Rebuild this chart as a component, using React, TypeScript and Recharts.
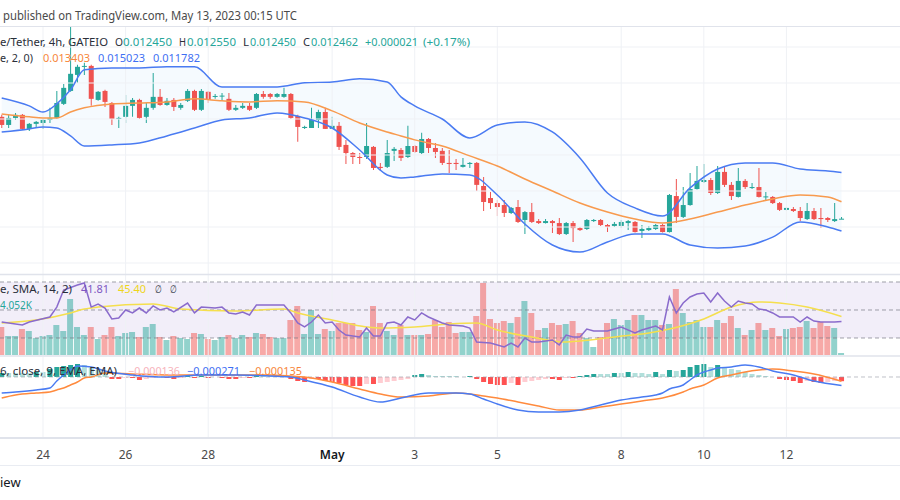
import React from 'react';
import {
  ComposedChart,
  Bar,
  Line,
  Area,
  XAxis,
  YAxis,
  ReferenceLine,
  ReferenceArea,
  Cell
} from 'recharts';

const FONT = '"Noto Sans", Roboto, sans-serif';
const TEAL = '#26a69a';
const RED = '#ef5350';
const BLUE = '#4a7bf2';
const ORANGE = '#f89a4e';
const GRID = '#eff1f5';

// x is hours since Apr 23 00:00 (exchange time), one candle every 4h
const X_DOMAIN: [number, number] = [-0.99, 522];
const dayTicks = [24, 72, 120, 192, 240, 288, 360, 408, 456];
const dayLabels = ['24', '26', '28', 'May', '3', '5', '8', '10', '12'];
const priceGrid = [0.01, 0.012, 0.014, 0.016, 0.018, 0.02, 0.022];

const open = [
  0.01812, 0.01767, 0.01806, 0.01823, 0.01745, 0.01773, 0.01778, 0.01795, 0.01806, 0.01884,
  0.01956, 0.02045, 0.0209, 0.02095, 0.01906, 0.01956, 0.01889, 0.018, 0.01812, 0.01873,
  0.01906, 0.01812, 0.01862, 0.01923, 0.01878, 0.01906, 0.01862, 0.01901, 0.01956, 0.01851,
  0.01951, 0.01923, 0.01928, 0.01912, 0.01851, 0.01862, 0.01873, 0.01862, 0.01939, 0.01939,
  0.01923, 0.01923, 0.01939, 0.01817, 0.0175, 0.0175, 0.01795, 0.01839, 0.01745, 0.01762,
  0.01656, 0.01611, 0.01589, 0.01589, 0.01645, 0.01534, 0.01534, 0.01623, 0.01628, 0.01589,
  0.0165, 0.01611, 0.01689, 0.01639, 0.01623, 0.01556, 0.01556, 0.01534, 0.0155, 0.01556,
  0.01428, 0.01361, 0.01333, 0.01322, 0.01278, 0.01311, 0.01239, 0.01283, 0.01233, 0.01222,
  0.01233, 0.01222, 0.01161, 0.01222, 0.01194, 0.01189, 0.01233, 0.01239, 0.01211, 0.01206,
  0.01206, 0.01222, 0.01228, 0.01178, 0.01183, 0.01189, 0.01211, 0.01172, 0.01372, 0.01256,
  0.01322, 0.01411, 0.0145, 0.01461, 0.01389, 0.01506, 0.01434, 0.01367, 0.01456, 0.01417,
  0.01422, 0.01367, 0.01367, 0.01333, 0.01295, 0.013, 0.01289, 0.01244, 0.01289, 0.0125,
  0.0125, 0.01233, 0.01245
];
const high = [
  0.01823, 0.01823, 0.01834, 0.01828, 0.01778, 0.01789, 0.018, 0.01862, 0.01956, 0.01995,
  0.0236, 0.02101, 0.02112, 0.02101, 0.01956, 0.01962, 0.01895, 0.01812, 0.01934, 0.01917,
  0.01912, 0.01889, 0.02056, 0.01967, 0.01917, 0.01917, 0.01889, 0.01967, 0.01962, 0.01967,
  0.01956, 0.01939, 0.01945, 0.01945, 0.01878, 0.01889, 0.01889, 0.01945, 0.01956, 0.01945,
  0.01945, 0.01973, 0.01945, 0.01823, 0.01762, 0.01862, 0.01851, 0.01862, 0.01812, 0.01784,
  0.01684, 0.01617, 0.01611, 0.01778, 0.0165, 0.01556, 0.01684, 0.01645, 0.01639, 0.01762,
  0.01656, 0.01723, 0.01695, 0.01667, 0.01639, 0.01628, 0.01578, 0.01584, 0.01561, 0.01561,
  0.01478, 0.01395, 0.0135, 0.0135, 0.01311, 0.0135, 0.01289, 0.01333, 0.01244, 0.01244,
  0.01239, 0.0125, 0.01228, 0.01233, 0.012, 0.01244, 0.01244, 0.01244, 0.01217, 0.01228,
  0.01239, 0.01239, 0.01233, 0.01211, 0.01206, 0.01217, 0.01217, 0.01383, 0.01467, 0.01422,
  0.015, 0.01539, 0.0155, 0.01472, 0.01539, 0.01539, 0.0145, 0.01528, 0.01467, 0.01445,
  0.01528, 0.01395, 0.01372, 0.01339, 0.01311, 0.01311, 0.01311, 0.01333, 0.01306, 0.01306,
  0.01256, 0.01333, 0.01255
];
const low = [
  0.0175, 0.0175, 0.01795, 0.01739, 0.01734, 0.01756, 0.01745, 0.01778, 0.018, 0.01878,
  0.01951, 0.02001, 0.02045, 0.01873, 0.01901, 0.01867, 0.01767, 0.0175, 0.01778, 0.01812,
  0.018, 0.01778, 0.01851, 0.01873, 0.01873, 0.01845, 0.01851, 0.01895, 0.01845, 0.01845,
  0.01889, 0.01912, 0.01901, 0.01845, 0.01845, 0.01856, 0.01845, 0.01856, 0.01912, 0.01912,
  0.01918, 0.01918, 0.018, 0.01673, 0.01745, 0.0175, 0.0175, 0.01745, 0.01745, 0.01628,
  0.0155, 0.0155, 0.0155, 0.01578, 0.01517, 0.01511, 0.01528, 0.01567, 0.01567, 0.01584,
  0.01611, 0.01606, 0.01611, 0.01584, 0.01545, 0.015, 0.01517, 0.0153, 0.01528, 0.014,
  0.01289, 0.013, 0.01261, 0.01256, 0.01272, 0.01222, 0.01161, 0.01222, 0.01217, 0.01219,
  0.01167, 0.01156, 0.01156, 0.01117, 0.01178, 0.01183, 0.01228, 0.01206, 0.01172, 0.012,
  0.01194, 0.01183, 0.0117, 0.01139, 0.01178, 0.01183, 0.0117, 0.0117, 0.01222, 0.0125,
  0.01318, 0.01408, 0.01445, 0.01378, 0.01383, 0.01422, 0.0135, 0.01364, 0.01411, 0.01411,
  0.01364, 0.0135, 0.01328, 0.01289, 0.01289, 0.01283, 0.01233, 0.01239, 0.01239, 0.01194,
  0.01228, 0.01228, 0.01245
];
const close = [
  0.01767, 0.01806, 0.01823, 0.01745, 0.01773, 0.01784, 0.01795, 0.01806, 0.01889, 0.01973,
  0.02051, 0.0209, 0.02095, 0.01912, 0.01951, 0.01895, 0.018, 0.01806, 0.01873, 0.01906,
  0.01806, 0.01862, 0.01923, 0.01878, 0.01901, 0.01867, 0.01878, 0.01956, 0.01851, 0.01956,
  0.01906, 0.01928, 0.0193, 0.01851, 0.01862, 0.01873, 0.01851, 0.01939, 0.01923, 0.01923,
  0.01939, 0.01939, 0.01806, 0.01756, 0.01756, 0.01795, 0.01839, 0.01745, 0.01762, 0.01645,
  0.01611, 0.01589, 0.01584, 0.0165, 0.01528, 0.01528, 0.01611, 0.01634, 0.01584, 0.0165,
  0.01617, 0.01689, 0.01639, 0.01617, 0.01556, 0.0155, 0.0155, 0.01545, 0.01556, 0.01434,
  0.01339, 0.01333, 0.01311, 0.01278, 0.01306, 0.01228, 0.01283, 0.01228, 0.01222, 0.01233,
  0.01222, 0.01161, 0.01222, 0.01194, 0.01183, 0.01239, 0.01239, 0.01211, 0.012, 0.01217,
  0.01228, 0.01233, 0.01172, 0.01189, 0.01194, 0.01211, 0.01172, 0.01378, 0.01256, 0.01322,
  0.01411, 0.01456, 0.01461, 0.01389, 0.01506, 0.01434, 0.01372, 0.01456, 0.01422, 0.01422,
  0.01367, 0.0137, 0.01333, 0.01295, 0.01306, 0.01289, 0.0125, 0.01289, 0.01244, 0.01244,
  0.01239, 0.01244, 0.012462
];

// volume in thousands
const volumeK = [
  56, 38, 38, 52, 48, 34, 38, 40, 60, 48,
  112, 56, 40, 56, 32, 40, 56, 38, 44, 46,
  36, 56, 62, 36, 30, 38, 34, 32, 44, 42,
  32, 30, 36, 40, 34, 40, 36, 44, 42, 36,
  34, 34, 70, 98, 42, 90, 42, 52, 48, 64,
  64, 64, 50, 46, 98, 64, 48, 40, 60, 40,
  40, 40, 42, 70, 56, 66, 44, 46, 46, 78,
  144, 72, 64, 68, 64, 76, 108, 84, 50, 54,
  64, 60, 62, 68, 44, 34, 16, 36, 64, 72,
  60, 70, 80, 80, 70, 70, 60, 62, 132, 84,
  66, 70, 56, 56, 70, 64, 78, 54, 40, 50,
  64, 50, 54, 38, 52, 54, 56, 68, 54, 66,
  58, 54, 4.052
];

// Bollinger bands (20, 2), read at these candle indexes
const bbAt = [0, 4, 6, 8, 10, 12, 16, 20, 24, 28, 32, 36, 40, 44, 48, 52, 56, 58, 60, 64, 68, 72, 76, 80, 84, 88, 92, 96, 100, 104, 108, 112, 116, 120, 122];
const bbUpper = [
  0.01917, 0.01873, 0.01839, 0.01884, 0.01962, 0.02073, 0.02084, 0.02084, 0.0209, 0.0209,
  0.01978, 0.01978, 0.01978, 0.02001, 0.02006, 0.02023, 0.02006, 0.01923, 0.01873, 0.018,
  0.01695, 0.01767, 0.01784, 0.01728, 0.01584, 0.01389, 0.01306, 0.01261, 0.01417, 0.01522,
  0.01556, 0.01556, 0.01522, 0.01511, 0.015023
];
const bbBasis = [
  0.01828, 0.01812, 0.01806, 0.01806, 0.01839, 0.01862, 0.01884, 0.01889, 0.01895, 0.01912,
  0.01901, 0.01895, 0.01901, 0.01895, 0.01845, 0.01778, 0.01728, 0.01706, 0.01684, 0.0165,
  0.01595, 0.01539, 0.01467, 0.014, 0.01333, 0.01283, 0.01244, 0.01222, 0.01244, 0.01283,
  0.01322, 0.01356, 0.01378, 0.01367, 0.013403
];
const bbLower = [
  0.01728, 0.01745, 0.01756, 0.0175, 0.01706, 0.0165, 0.01656, 0.01667, 0.01706, 0.0175,
  0.01795, 0.01806, 0.01834, 0.01806, 0.0175, 0.01628, 0.01489, 0.01472, 0.01478, 0.01495,
  0.01489, 0.01378, 0.01217, 0.011, 0.01061, 0.01117, 0.01161, 0.01161, 0.011, 0.01083,
  0.01094, 0.01144, 0.01228, 0.012, 0.011782
];

// RSI 14 (null where not read)
const rsi = [
  41.4, null, null, 39.3, 41.4, null, null, 45.0, 52.1, 64.3,
  null, 67.9, 69.3, 52.1, 54.3, 51.4, 43.6, 44.3, 50.0, 47.9,
  51.4, 47.9, 52.9, 50.0, 51.4, 48.6, null, 55.0, 47.9, 52.1,
  null, 51.4, 52.1, 47.9, 47.1, 48.6, 46.4, 53.6, 53.6, null,
  null, 53.6, 47.9, 40.7, 37.9, 41.4, 46.4, 40.7, 41.4, 35.7,
  32.1, null, 30.7, 37.1, 31.4, 31.4, 40.7, 41.4, 39.3, 45.0,
  42.9, 47.9, 45.0, null, 40.7, 39.3, null, 38.6, 37.1, 27.1,
  null, 26.4, null, 23.6, 26.4, 23.6, 30.0, 27.1, 27.1, null,
  28.6, 25.0, 32.1, 30.7, 30.7, 36.4, 35.0, null, 35.0, 36.4,
  37.9, null, 33.6, 35.7, 37.1, 38.6, 35.7, 59.3, 47.9, 55.0,
  59.3, 61.4, 62.1, 55.7, 62.1, 56.4, 52.1, 56.4, 55.0, 54.3,
  50.7, 50.0, 47.9, 45.0, 45.0, 45.0, 41.4, 45.0, 42.1, 41.4,
  null, 41.4, 41.81
];
const rsiMaAt = [0, 5, 10, 12, 14, 22, 26, 34, 41, 43, 48, 53, 55, 60, 65, 69, 72, 77, 82, 84, 89, 94, 97, 102, 106, 110, 113, 117, 122];
const rsiMa = [40.7, 42.9, 47.9, 50.7, 52.1, 54.3, 50.7, 49.3, 50.7, 47.9, 42.9, 37.9, 37.1, 37.9, 40.0, 40.7, 35.7, 30.7, 27.1, 27.9, 30.7, 33.6, 36.4, 43.6, 52.1, 55.7, 55.0, 52.1, 45.4];

// MACD (12, 26, close, 9)
const macdHist = [
  0.000129, 0.000129, 0.000129, 0.000129, 0.000129, 0.000161, 0.000161, 0.000258, 0.000323, 0.000355,
  0.000387, 0.000419, 0.000387, 0.00029, 0.000226, 0.000161, -0.000065, -0.000065, -0.000032, -0.000032,
  -0.000097, -0.000065, -0.000032, 0, -0.000032, -0.000065, -0.000032, 0.000032, -0.000032, 0.000032,
  -0.000032, 0, -0.000032, -0.000065, -0.000065, -0.000032, -0.000032, 0.000032, 0.000032, 0.000032,
  0.000032, 0, -0.000065, -0.000129, -0.000161, -0.000065, -0.000065, -0.000129, -0.000161, -0.000194,
  -0.000258, -0.00029, -0.00029, -0.000226, -0.000226, -0.000194, -0.000161, -0.000129, -0.000097, -0.000065,
  0.000065, 0.000097, 0.000065, 0.000032, 0.000032, 0.000032, 0.000032, 0, 0.000032, -0.000065,
  -0.000161, -0.000226, -0.000258, -0.000258, -0.000194, -0.000258, -0.000161, -0.000129, -0.000097, -0.000065,
  -0.000065, -0.000097, -0.000032, -0.000032, 0.000032, 0.000065, 0.000097, 0.000097, 0.000097, 0.000129,
  0.000129, 0.000161, 0.000129, 0.000129, 0.000097, 0.000161, 0.000097, 0.000226, 0.000194, 0.000226,
  0.000323, 0.000387, 0.000419, 0.000323, 0.000387, 0.000323, 0.000258, 0.000226, 0.000161, 0.000097,
  0.000065, 0.000032, 0, -0.000065, -0.000097, -0.000129, -0.000194, -0.000129, -0.000161, -0.000194,
  -0.000161, -0.000129, -0.000136
];
const macdAt = [0, 2, 5, 7, 8, 9, 10, 11, 13, 15, 19, 24, 29, 34, 39, 42, 44, 48, 52, 55, 58, 62, 66, 68, 70, 72, 75, 78, 81, 84, 87, 90, 93, 95, 96, 97, 99, 100, 101, 102, 103, 104, 106, 108, 110, 112, 115, 118, 122];
const macdLine = [
  -0.000516, -0.000484, -0.000419, -0.000355, -0.000129, 0.000065, 0.000226, 0.000355, 0.000323, 0.000194,
  0.000065, 0, 0.000065, 0.000065, 0.000032, 0, -0.000097, -0.000323, -0.000645, -0.000807,
  -0.000677, -0.000516, -0.000516, -0.000548, -0.00071, -0.000871, -0.001065, -0.001129, -0.001129, -0.001065,
  -0.000903, -0.000742, -0.000645, -0.000581, -0.000516, -0.000387, -0.000258, -0.000097, 0.000065, 0.000161,
  0.000226, 0.00029, 0.000323, 0.000387, 0.000323, 0.000194, 0.000065, -0.000129, -0.000271
];
const signalAt = [0, 2, 5, 7, 8, 9, 10, 11, 12, 13, 15, 19, 24, 29, 34, 39, 42, 44, 48, 52, 55, 58, 62, 66, 68, 70, 72, 75, 78, 81, 84, 87, 90, 93, 96, 99, 100, 102, 104, 106, 108, 110, 112, 115, 118, 122];
const signalLine = [
  -0.000677, -0.000581, -0.000516, -0.000484, -0.000419, -0.000355, -0.000258, -0.000161, -0.000032, 0,
  0.000129, 0.000097, 0.000065, 0.000065, 0.000065, 0.000065, 0.000032, 0, -0.000161, -0.000387,
  -0.000548, -0.000645, -0.000613, -0.000516, -0.000548, -0.000613, -0.000677, -0.000807, -0.000936, -0.001065,
  -0.001065, -0.000968, -0.000871, -0.000774, -0.000677, -0.000484, -0.000387, -0.000258, -0.000032, 0.000065,
  0.000161, 0.000226, 0.000258, 0.000194, 0.000097, -0.000135
];

const candles = open.map((o, i) => ({
  t: i * 4,
  body: [Math.min(o, close[i]), Math.max(o, close[i])],
  wick: [low[i], high[i]],
  up: close[i] >= o,
  vol: volumeK[i],
  hist: macdHist[i]
}));
const at = (idx: number[], vals: number[]) => idx.map((k, i) => ({ t: k * 4, v: vals[i] }));
const bbRows = bbAt.map((k, i) => ({
  t: k * 4,
  up: bbUpper[i],
  mid: bbBasis[i],
  lo: bbLower[i],
  band: [bbLower[i], bbUpper[i]]
}));
const rsiRows = rsi
  .map((v, i) => ({ t: i * 4, v }))
  .filter((d) => d.v !== null);
const rsiMaRows = at(rsiMaAt, rsiMa);
const macdRows = at(macdAt, macdLine);
const signalRows = at(signalAt, signalLine);

const histColor = (i: number) => {
  const v = macdHist[i];
  const prev = i > 0 ? macdHist[i - 1] : 0;
  if (v >= 0) return v > prev ? '#26a69a' : '#b2dfdb';
  return v > prev ? '#ffcdd2' : '#ff5252';
};

const BodyRect = (p: any) => (
  <rect x={p.x} y={p.y} width={p.width} height={Math.max(1, p.height)} fill={p.fill} />
);

const DayTick = (p: any) => {
  const label = dayLabels[dayTicks.indexOf(p.payload.value)];
  const strong = label === 'May';
  return (
    <text
      x={p.x}
      y={p.y}
      dy={19}
      textAnchor="middle"
      fontSize={12}
      fontFamily={FONT}
      fill={strong ? '#131722' : '#4a4a4a'}
      fontWeight={strong ? 600 : 400}
    >
      {label}
    </text>
  );
};

const margin = { top: 0, right: 0, bottom: 0, left: 0 };
const DARK = '#2a2e39';

// [left x, text, colour, width it takes in the reference]
type Seg = [number, string, string, number];
const Row = ({ y, segs }: { y: number; segs: Seg[] }) => (
  <g>
    {segs.map(([x, s, c, w], i) => (
      <text
        key={i}
        x={x}
        y={y}
        fontSize={11}
        fontFamily={FONT}
        fill={c}
        textLength={w}
        lengthAdjust="spacingAndGlyphs"
      >
        {s}
      </text>
    ))}
  </g>
);

const App = () => {
  return (
    <div
      style={{
        position: 'absolute',
        left: 0,
        top: 0,
        width: 900,
        height: 500,
        background: '#ffffff',
        overflow: 'hidden'
      }}
    >
      {/* price pane */}
      <div style={{ position: 'absolute', left: 0, top: 26 }}>
        <ComposedChart width={900} height={248} data={candles} margin={margin}>
          <XAxis xAxisId="w" type="number" dataKey="t" domain={X_DOMAIN} allowDataOverflow hide />
          <XAxis xAxisId="b" type="number" dataKey="t" domain={X_DOMAIN} allowDataOverflow hide />
          <YAxis type="number" domain={[0.009389, 0.023167]} allowDataOverflow hide />
          {priceGrid.map((p) => (
            <ReferenceLine key={p} xAxisId="w" y={p} stroke={GRID} />
          ))}
          {dayTicks.map((t) => (
            <ReferenceLine key={t} xAxisId="w" x={t} stroke={GRID} />
          ))}
          <Area
            xAxisId="w"
            data={bbRows}
            dataKey="band"
            type="monotone"
            stroke="none"
            fill="#2196f3"
            fillOpacity={0.045}
            isAnimationActive={false}
          />
          <Line xAxisId="w" data={bbRows} dataKey="up" type="monotone" stroke={BLUE} strokeWidth={1.5} dot={false} activeDot={false} isAnimationActive={false} />
          <Line xAxisId="w" data={bbRows} dataKey="lo" type="monotone" stroke={BLUE} strokeWidth={1.5} dot={false} activeDot={false} isAnimationActive={false} />
          <Line xAxisId="w" data={bbRows} dataKey="mid" type="monotone" stroke={ORANGE} strokeWidth={1.5} dot={false} activeDot={false} isAnimationActive={false} />
          <Bar xAxisId="w" dataKey="wick" barSize={1} isAnimationActive={false}>
            {candles.map((d, i) => (
              <Cell key={i} fill={d.up ? TEAL : RED} />
            ))}
          </Bar>
          <Bar xAxisId="b" dataKey="body" barSize={5} shape={BodyRect} isAnimationActive={false}>
            {candles.map((d, i) => (
              <Cell key={i} fill={d.up ? TEAL : RED} />
            ))}
          </Bar>
        </ComposedChart>
      </div>

      {/* volume + RSI pane */}
      <div style={{ position: 'absolute', left: 0, top: 275 }}>
        <ComposedChart width={900} height={80} data={candles} margin={margin}>
          <XAxis type="number" dataKey="t" domain={X_DOMAIN} allowDataOverflow hide />
          <YAxis yAxisId="vol" type="number" domain={[0, 160]} allowDataOverflow hide />
          <YAxis yAxisId="rsi" type="number" domain={[17.857, 75]} allowDataOverflow hide />
          <ReferenceArea yAxisId="rsi" y1={30} y2={70} fill="#7e57c2" fillOpacity={0.1} stroke="none" />
          {dayTicks.map((t) => (
            <ReferenceLine key={t} yAxisId="rsi" x={t} stroke={GRID} />
          ))}
          <Bar yAxisId="vol" dataKey="vol" barSize={6} isAnimationActive={false}>
            {candles.map((d, i) => (
              <Cell key={i} fill={d.up ? TEAL : RED} fillOpacity={0.5} />
            ))}
          </Bar>
          {[70, 50, 30].map((v) => (
            <ReferenceLine key={v} yAxisId="rsi" y={v} stroke="#787b86" strokeOpacity={0.7} strokeDasharray="4 3" />
          ))}
          <Line yAxisId="rsi" data={rsiMaRows} dataKey="v" type="monotone" stroke="#f5df4d" strokeWidth={1.5} dot={false} activeDot={false} isAnimationActive={false} />
          <Line yAxisId="rsi" data={rsiRows} dataKey="v" type="linear" stroke="#8a6bcc" strokeWidth={1.5} dot={false} activeDot={false} isAnimationActive={false} />
        </ComposedChart>
      </div>

      {/* MACD pane + time axis */}
      <div style={{ position: 'absolute', left: 0, top: 357 }}>
        <ComposedChart width={900} height={108} data={candles} margin={margin}>
          <XAxis
            type="number"
            dataKey="t"
            domain={X_DOMAIN}
            allowDataOverflow
            ticks={dayTicks}
            interval={0}
            height={27}
            tickLine={false}
            tickSize={0}
            axisLine={{ stroke: '#e0e3eb', strokeWidth: 2 }}
            tick={<DayTick />}
          />
          <YAxis type="number" domain={[-0.001968, 0.000645]} allowDataOverflow hide />
          <ReferenceLine y={-0.001} stroke={GRID} />
          {dayTicks.map((t) => (
            <ReferenceLine key={t} x={t} stroke={GRID} />
          ))}
          <ReferenceLine y={0} stroke="#9598a1" strokeOpacity={0.6} strokeDasharray="4 3" />
          <Bar dataKey="hist" barSize={5} isAnimationActive={false}>
            {candles.map((d, i) => (
              <Cell key={i} fill={histColor(i)} />
            ))}
          </Bar>
          <Line data={signalRows} dataKey="v" type="monotone" stroke="#ff8a3d" strokeWidth={1.5} dot={false} activeDot={false} isAnimationActive={false} />
          <Line data={macdRows} dataKey="v" type="monotone" stroke="#4a7bf2" strokeWidth={1.5} dot={false} activeDot={false} isAnimationActive={false} />
        </ComposedChart>
      </div>

      {/* texts and pane separators */}
      <svg
        width={900}
        height={500}
        style={{ position: 'absolute', left: 0, top: 0, pointerEvents: 'none' }}
      >
        <line x1={0} x2={900} y1={26.5} y2={26.5} stroke="#e0e3eb" />
        <line x1={0} x2={900} y1={274.5} y2={274.5} stroke="#e0e3eb" strokeWidth={1.5} />
        <line x1={0} x2={900} y1={356} y2={356} stroke="#e0e3eb" strokeWidth={1.5} />
        <line x1={0} x2={900} y1={465.5} y2={465.5} stroke="#e9ecf2" />
        <text
          x={3}
          y={19.5}
          fontSize={12}
          fontFamily={FONT}
          fill="#4a4a4a"
          textLength={294}
          lengthAdjust="spacingAndGlyphs"
        >
          published on TradingView.com, May 13, 2023 00:15 UTC
        </text>
        <Row
          y={46}
          segs={[
            [0, 'e/Tether, 4h, GATEIO', DARK, 108],
            [115, 'O', DARK, 8],
            [123, '0.012450', TEAL, 49],
            [179, 'H', DARK, 7],
            [187, '0.012550', TEAL, 49],
            [243, 'L', DARK, 6],
            [250, '0.012450', TEAL, 46],
            [303, 'C', DARK, 7],
            [311, '0.012462', TEAL, 47],
            [365, '+0.000021', TEAL, 53],
            [423, '(+0.17%)', TEAL, 47]
          ]}
        />
        <Row
          y={62}
          segs={[
            [0, 'e, 2, 0)', DARK, 33],
            [43, '0.013403', '#f7863a', 47],
            [98, '0.015023', '#3f6ff3', 47],
            [153, '0.011782', '#3f6ff3', 47]
          ]}
        />
        <Row
          y={293}
          segs={[
            [0, 'e, SMA, 14, 2)', DARK, 72],
            [81, '41.81', '#7e57c2', 28],
            [118, '45.40', '#eed51c', 28],
            [155, '∅', DARK, 7],
            [170, '∅', DARK, 7]
          ]}
        />
        <Row y={309} segs={[[0, '4.052K', TEAL, 32]]} />
        <Row
          y={375}
          segs={[
            [0, '6, close, 9, EMA, EMA)', DARK, 117],
            [128, '−0.000136', '#f7b3bb', 52],
            [187, '−0.000271', '#3f6ff3', 53],
            [249, '−0.000135', '#f7863a', 53]
          ]}
        />
        <text x={0} y={487} fontSize={13} fontFamily={FONT} fill="#131722">
          iew
        </text>
      </svg>
    </div>
  );
};

export default App;
